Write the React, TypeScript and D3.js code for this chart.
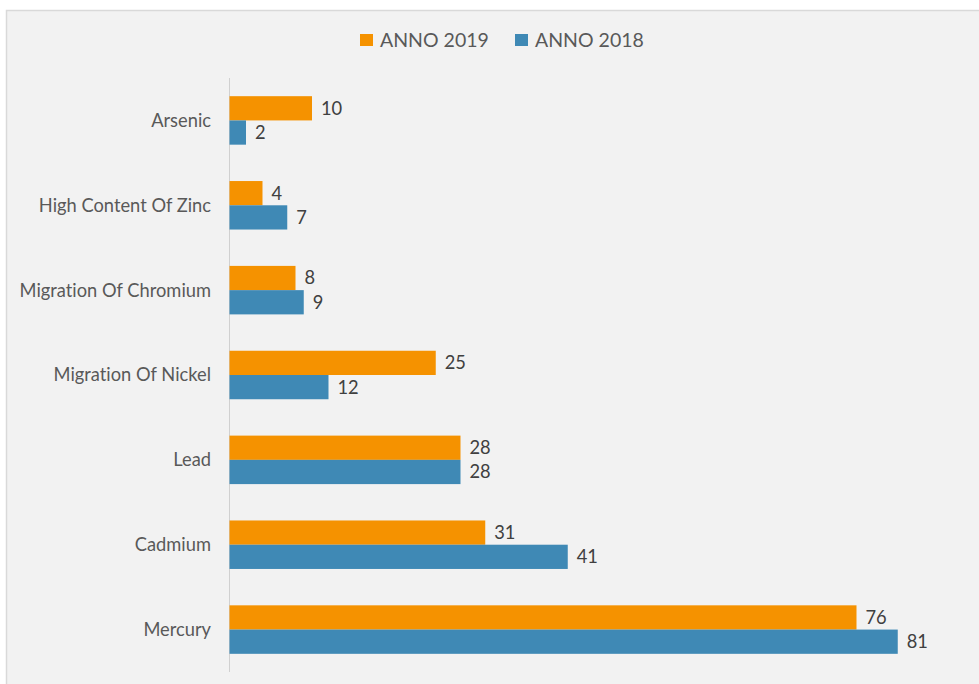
import React from "react";
import * as d3 from "d3";

const categories = [
  "Arsenic",
  "High Content Of Zinc",
  "Migration Of Chromium",
  "Migration Of Nickel",
  "Lead",
  "Cadmium",
  "Mercury",
];
const seriesNames = ["ANNO 2019", "ANNO 2018"];
const values2019 = [10, 4, 8, 25, 28, 31, 76];
const values2018 = [2, 7, 9, 12, 28, 41, 81];
const seriesColors = ["#F59200", "#3F89B5"];

const W = 979;
const H = 684;

export default function App() {
  const x = d3.scaleLinear().domain([0, 90]).range([229.5, 972]);
  const y = d3.scaleBand<string>().domain(categories).range([78, 672]).paddingInner(0).paddingOuter(0);
  const inner = d3
    .scaleBand<string>()
    .domain(seriesNames)
    .range([0, y.bandwidth() / 1.75]);
  const groupOffset = (y.bandwidth() - y.bandwidth() / 1.75) / 2;
  const series = [values2019, values2018];
  const font = "Lato, 'Open Sans', sans-serif";

  return (
    <svg
      width={W}
      height={H}
      style={{ position: "absolute", left: 0, top: 0, background: "#ffffff", fontVariantLigatures: "none" }}
      fontFamily={font}
    >
      <rect x={6.5} y={10.5} width={990} height={700} fill="#F2F2F2" stroke="#D9D9D9" strokeWidth={1.5} />
      {/* legend */}
      {seriesNames.map((s, i) => {
        const lx = i === 0 ? 360 : 515;
        return (
          <g key={s}>
            <rect x={lx} y={34} width={13} height={12} fill={seriesColors[i]} />
            <text x={lx + 20} y={40} dy="0.35em" fontSize={19.5} fill="#595959">
              {s}
            </text>
          </g>
        );
      })}
      {/* axis line */}
      <line x1={229.5} x2={229.5} y1={78} y2={672} stroke="#D0D0D0" strokeWidth={1} />
      {categories.map((c) => (
        <text
          key={c}
          x={211}
          y={(y(c) ?? 0) + y.bandwidth() / 2}
          dy="0.35em"
          textAnchor="end"
          fontSize={18.3}
          fill="#595959"
        >
          {c}
        </text>
      ))}
      {series.map((vals, si) =>
        categories.map((c, ci) => {
          const by = (y(c) ?? 0) + groupOffset + (inner(seriesNames[si]) ?? 0);
          const bh = inner.bandwidth();
          return (
            <g key={c + si}>
              <rect x={x(0)} y={by} width={x(vals[ci]) - x(0)} height={bh} fill={seriesColors[si]} />
              <text
                x={x(vals[ci]) + 9}
                y={by + bh / 2}
                dy="0.35em"
                fontSize={18.3}
                fill="#404040"
              >
                {vals[ci]}
              </text>
            </g>
          );
        })
      )}
    </svg>
  );
}
